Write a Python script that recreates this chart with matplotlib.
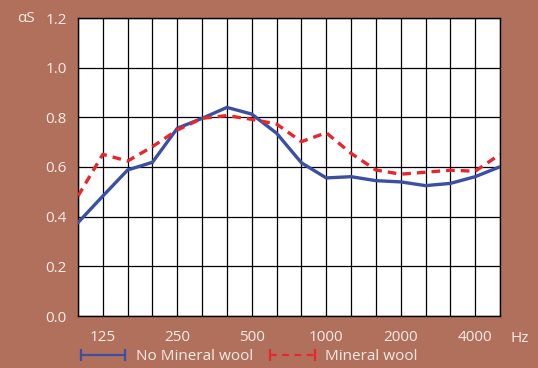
import matplotlib
matplotlib.use("Agg")
import matplotlib.pyplot as plt
from matplotlib.lines import Line2D

freqs = ["100", "125", "160", "200", "250", "315", "400", "500", "630", "800",
         "1000", "1250", "1600", "2000", "2500", "3150", "4000", "5000"]
no_wool = [0.376, 0.483, 0.588, 0.619, 0.756, 0.796, 0.840, 0.813, 0.736, 0.617,
           0.556, 0.561, 0.545, 0.540, 0.525, 0.534, 0.561, 0.601]
wool = [0.483, 0.651, 0.624, 0.682, 0.749, 0.796, 0.807, 0.792, 0.773, 0.702,
        0.738, 0.655, 0.588, 0.571, 0.579, 0.587, 0.583, 0.651]
tick_labels = ["125", "250", "500", "1000", "2000", "4000"]
y_ticks = [0.0, 0.2, 0.4, 0.6, 0.8, 1.0, 1.2]

BG = "#b1705b"
TXT = "#f6ece8"
BLUE = "#3b4fa3"
RED = "#e8262d"
FS = 11

plt.rcParams['font.family'] = ['Open Sans', 'DejaVu Sans']

fig = plt.figure(figsize=(5.38, 3.68), dpi=100, facecolor=BG)
ax = fig.add_axes([78/538, 52/368, 422/538, 298/368])
ax.set_facecolor("white")

x = list(range(len(freqs)))
ax.plot(x, no_wool, color=BLUE, lw=2.4, solid_joinstyle='miter', zorder=3)
ax.plot(x, wool, color=RED, lw=2.4, ls=(0, (2.6, 1.8)), zorder=4)

ax.set_xlim(0, len(freqs) - 1)
ax.set_ylim(0, 1.2)
for xi in x:
    ax.axvline(xi, color="black", lw=0.9, zorder=1)
for yv in y_ticks:
    ax.axhline(yv, color="black", lw=0.9, zorder=1)

ax.set_xticks([freqs.index(t) for t in tick_labels])
ax.set_xticklabels(tick_labels)
ax.set_yticks(y_ticks)
ax.set_yticklabels([f"{v:.1f}" for v in y_ticks])
ax.tick_params(axis='x', length=0, pad=10, labelsize=FS, labelcolor=TXT)
ax.tick_params(axis='y', length=0, pad=8, labelsize=FS, labelcolor=TXT)
for s in ax.spines.values():
    s.set_color("black")
    s.set_linewidth(1.0)

fig.text(17/538, 1 - 19/368, "αS", color=TXT, fontsize=FS, ha='left', va='center')
fig.text(510/538, 1 - 339/368, "Hz", color=TXT, fontsize=FS, ha='left', va='center')

handles = [Line2D([], [], color=BLUE, lw=1.6, marker='|', markersize=8, markeredgewidth=1.6),
           Line2D([], [], color=RED, lw=1.6, ls=(0, (3, 2.5)), marker='|', markersize=8,
                  markeredgewidth=1.6)]
leg = fig.legend(handles, ["No Mineral wool", "Mineral wool"], ncol=2, numpoints=2,
                 loc='center left', bbox_to_anchor=(76/538, 1 - 357/368),
                 frameon=False, fontsize=FS, labelcolor=TXT, handlelength=3.5,
                 handletextpad=0.4, columnspacing=0.85, borderpad=0, borderaxespad=0)

fig.savefig("out.png", dpi=100, facecolor=BG)
